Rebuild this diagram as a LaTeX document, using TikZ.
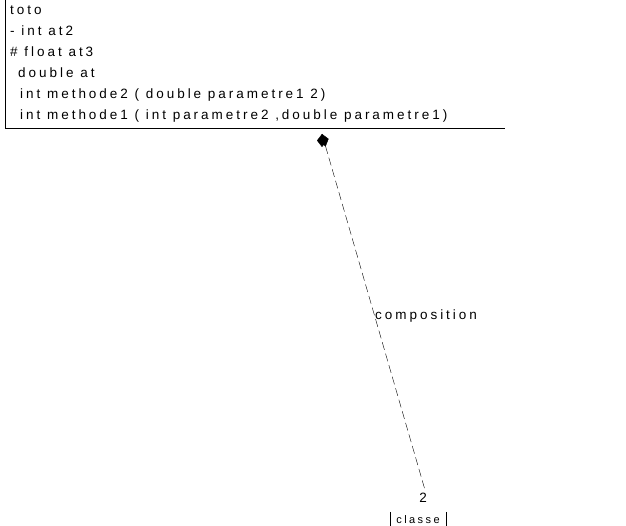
\documentclass[tikz,border=0pt]{standalone}
\usepackage{fontspec}
\setmainfont[LetterSpace=22]{Liberation Sans}
\usetikzlibrary{arrows.meta,positioning}
\begin{document}
\begin{tikzpicture}[
        x=1pt, y=-1pt,
        member/.style={anchor=base west, inner sep=0pt, font=\fontsize{13.5}{15}\selectfont},
        label/.style={inner sep=0pt, font=\fontsize{13.5}{15}\selectfont},
        every edge/.style={draw, dashed, dash pattern=on 8pt off 4pt, thin}
    ]
        \useasboundingbox (0,0) rectangle (626,526);
        \clip (0,0) rectangle (626,526);

        % class toto
        \node (toto) at (5,-20) [anchor=north west, minimum width=500, minimum height=148, inner sep=0pt] {};
        \draw (toto.north west) -- (toto.south west) -- (toto.south east);
        \node (name) at (10,15) [member] {toto};
        \node (at2) at (10,36) [member] {- int at2};
        \node (at3) at (10,57) [member] {\# float at3};
        \node (at) at (18,78) [member] {double at};
        \node (m2) at (20,99) [member] {int methode2 ( double parametre1 2)};
        \node (m1) at (20,120) [member] {int methode1 ( int parametre2 ,double parametre1)};

        % class classe
        \node (classe) at (418,520) [label, font=\fontsize{11}{12}\selectfont, minimum width=56, minimum height=16, anchor=center] {classe};
        \draw (classe.north west) -- ++(0,20);
        \draw (classe.north east) -- ++(0,20);

        % composition
        \coordinate (whole) at (322,134);
        \coordinate (part) at (425,490);
        \draw[{Diamond[length=13pt,width=10pt]}-] (whole) edge (part);
        \node (comp) at (375,316) [label, anchor=west] {composition};
        \node (mult) at (423,498) [label, anchor=center] {2};
    \end{tikzpicture}
\end{document}
